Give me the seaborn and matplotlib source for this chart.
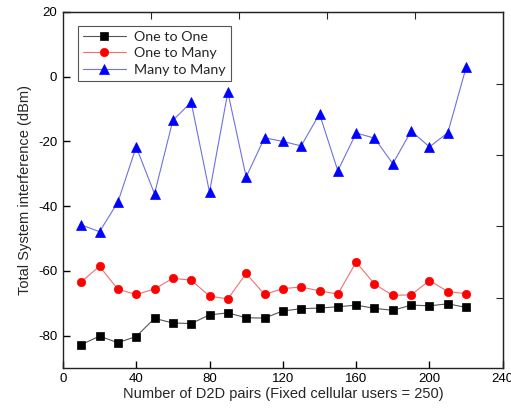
import matplotlib
matplotlib.use("Agg")
import matplotlib.pyplot as plt
import seaborn as sns
import pandas as pd

x_pairs = [10, 20, 30, 40, 50, 60, 70, 80, 90, 100, 110, 120, 130, 140, 150, 160, 170, 180, 190, 200, 210, 220]
one_to_one = [-82.8, -80.2, -82.2, -80.3, -74.7, -76.1, -76.3, -73.6, -73.0, -74.5, -74.6, -72.4,
              -71.7, -71.5, -71.1, -70.6, -71.6, -72.2, -70.6, -70.8, -70.2, -71.3]
one_to_many = [-63.4, -58.6, -65.7, -67.3, -65.6, -62.3, -62.9, -67.8, -68.7, -60.8, -67.3, -65.5,
               -65.0, -66.2, -67.2, -57.3, -64.1, -67.6, -67.4, -63.0, -66.4, -67.1]
many_to_many = [-45.8, -47.9, -38.8, -21.7, -36.2, -13.5, -7.9, -35.7, -4.8, -31.0, -18.9, -20.0,
                -21.4, -11.5, -29.1, -17.4, -19.0, -26.9, -16.8, -21.7, -17.3, 2.9]
series_names = ["One to One", "One to Many", "Many to Many"]
x_ticks = [0, 40, 80, 120, 160, 200, 240]
y_ticks = [-80, -60, -40, -20, 0, 20]

sns.set_style("ticks")
plt.rcParams['font.family'] = ['Liberation Sans', 'DejaVu Sans']
plt.rcParams['axes.unicode_minus'] = False

fig = plt.figure(figsize=(5.11, 4.12), dpi=100)
ax = fig.add_axes([0.123, 0.107, 0.861, 0.864])

styles = [
    dict(marker="s", mfc="black", mec="black", line="#555555", ms=5.2),
    dict(marker="o", mfc="#ff0000", mec="#ff0000", line="#f07070", ms=6),
    dict(marker="^", mfc="#0000ff", mec="#0000ff", line="#7070e0", ms=6.5),
]
for name, vals, st in zip(series_names, [one_to_one, one_to_many, many_to_many], styles):
    df = pd.DataFrame({"x": x_pairs, "y": vals})
    sns.lineplot(data=df, x="x", y="y", ax=ax, color=st["line"], linewidth=0.8,
                 marker=st["marker"], markersize=st["ms"], markerfacecolor=st["mfc"],
                 markeredgecolor=st["mec"], markeredgewidth=0.5, label=name)

ax.set_xlim(0, 240)
ax.set_ylim(-90, 20)
ax.set_xticks(x_ticks)
ax.set_yticks(y_ticks)
ax.tick_params(direction="in", length=5, width=1, labelsize=9.5, colors="black", pad=4)
for s in ax.spines.values():
    s.set_linewidth(1.0)
    s.set_color("#222222")

# top / right ticks (unlabelled, as in the reference)
axt = ax.secondary_xaxis("top")
axt.set_xticks([48, 96, 144, 192])
axt.tick_params(direction="in", length=5, labeltop=False)
axr = ax.secondary_yaxis("right")
axr.set_yticks([-2.2, -24.3, -46.2, -68.3])
axr.tick_params(direction="in", length=5, labelright=False)

ax.set_xlabel("Number of D2D pairs (Fixed cellular users = 250)", fontsize=10.5, labelpad=1)
ax.set_ylabel("Total System interference (dBm)", fontsize=10.5, labelpad=4)

leg = ax.legend(loc="upper left", bbox_to_anchor=(0.018, 0.982), frameon=True, fancybox=False,
                edgecolor="#555555", framealpha=1, handlelength=3.0,
                borderpad=0.35, labelspacing=0.32, handletextpad=0.6,
                prop={"family": ["Lato", "DejaVu Sans"], "size": 10.3})
leg.get_frame().set_linewidth(0.8)

fig.savefig("out.png", dpi=100)
